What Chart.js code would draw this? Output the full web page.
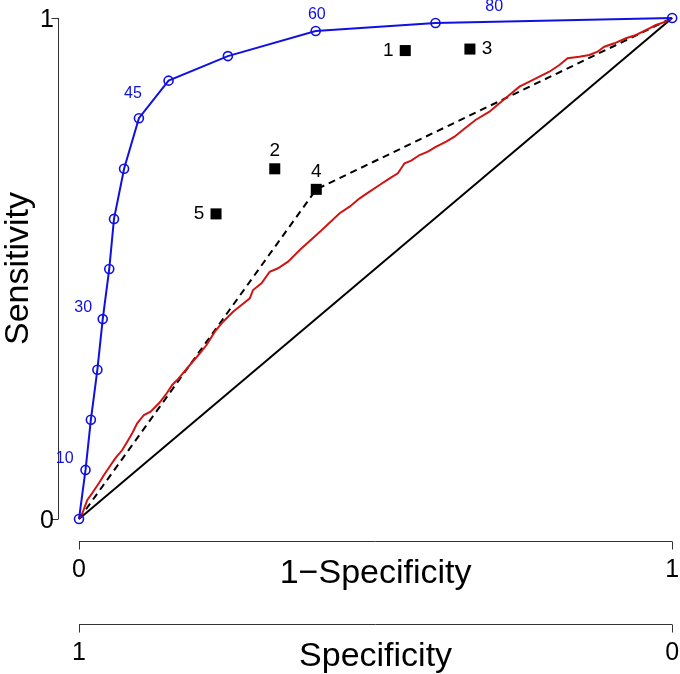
<!DOCTYPE html>
<html>
<head>
<meta charset="UTF-8">
<title>ROC curves</title>
<script src="https://cdn.jsdelivr.net/npm/chart.js@4.4.1/dist/chart.umd.min.js"></script>
<style>
  body { margin: 0; background: #fff; }
</style>
</head>
<body>
<canvas id="chart" width="680" height="674"></canvas>
<script>
// ---- data ----
// blue curve (cutoff points)
var blueX = [0, 0.011, 0.02, 0.031, 0.04, 0.051, 0.059, 0.076, 0.101, 0.151, 0.251, 0.399, 0.601, 1];
var blueY = [0, 0.098, 0.198, 0.298, 0.399, 0.499, 0.599, 0.699, 0.8, 0.875, 0.924, 0.974, 0.99, 1];
// cutoff text labels on the blue curve
var cutoffLabels = ['10', '30', '45', '60', '80'];
var cutoffX = [-0.024, 0.007, 0.091, 0.401, 0.700];
var cutoffY = [0.120, 0.421, 0.850, 1.006, 1.022];

// red empirical curve
var redX = [0, 0.0056, 0.014, 0.0224, 0.0337, 0.0421, 0.0534, 0.0618, 0.0729, 0.0813, 0.0897, 0.0981,
  0.1094, 0.1207, 0.1347, 0.146, 0.1571, 0.1655, 0.1869, 0.2037, 0.215, 0.229, 0.2429, 0.2598, 0.2739,
  0.2879, 0.2934, 0.3076, 0.3215, 0.3355, 0.3524, 0.3721, 0.4057, 0.4394, 0.4562, 0.4731, 0.4899, 0.5067,
  0.5236, 0.5375, 0.5488, 0.5601, 0.5741, 0.588, 0.6022, 0.619, 0.633, 0.647, 0.6684, 0.6919, 0.7088,
  0.7256, 0.7424, 0.7593, 0.7761, 0.7929, 0.8098, 0.8237, 0.8434, 0.8603, 0.8742, 0.8855, 0.9024, 0.922,
  0.9389, 0.9557, 0.9726, 0.9894, 1];
var redY = [0, 0.0114, 0.0379, 0.0519, 0.0719, 0.0878, 0.1078, 0.1218, 0.1377, 0.1543, 0.1711, 0.191,
  0.2076, 0.2142, 0.2309, 0.2475, 0.2675, 0.2774, 0.3074, 0.3307, 0.3473, 0.3739, 0.3938, 0.4138, 0.4271,
  0.4405, 0.4571, 0.4705, 0.4936, 0.5004, 0.5136, 0.5369, 0.5729, 0.6102, 0.6234, 0.6401, 0.6533, 0.6667,
  0.68, 0.69, 0.71, 0.7152, 0.7265, 0.7331, 0.7431, 0.7531, 0.7631, 0.7764, 0.7964, 0.813, 0.8297,
  0.8463, 0.8629, 0.8729, 0.8828, 0.8928, 0.9062, 0.9196, 0.9228, 0.9261, 0.9327, 0.9427, 0.9495, 0.9595,
  0.9661, 0.976, 0.986, 0.9926, 1];

// dashed line through square 4
var dashX = [0, 0.4, 1];
var dashY = [0, 0.658, 1];

// black squares
var sqLabels = ['1', '2', '3', '4', '5'];
var sqX = [0.550, 0.330, 0.659, 0.400, 0.231];
var sqY = [0.935, 0.699, 0.938, 0.658, 0.609];
var sqLabelSide = ['left', 'top', 'right', 'top', 'left'];

// axes
var xTicks = [0, 1];
var xTickLabels = ['0', '1'];
var specTickLabels = ['1', '0'];
var yTicks = [0, 1];
var yTickLabels = ['0', '1'];

function pts(xs, ys) {
    var out = [];
    for (var i = 0; i < xs.length; i++) out.push({x: xs[i], y: ys[i]});
    return out;
}

var FONT = '"Liberation Sans", Arial, Helvetica, sans-serif';

// draws R-style detached axes plus the text annotations
var axesPlugin = {
    id: 'rAxes',
    afterDraw: function(chart) {
        var ctx = chart.ctx;
        var xs = chart.scales.x, ys = chart.scales.y;
        var area = chart.chartArea;
        ctx.save();
        ctx.strokeStyle = '#333';
        ctx.fillStyle = '#000';
        ctx.lineWidth = 1;

        // y axis
        var ax = 58.5;
        ctx.beginPath();
        ctx.moveTo(ax, ys.getPixelForValue(yTicks[0]));
        ctx.lineTo(ax, ys.getPixelForValue(yTicks[yTicks.length - 1]));
        yTicks.forEach(function(t) {
            var p = Math.round(ys.getPixelForValue(t)) + 0.5;
            ctx.moveTo(ax, p);
            ctx.lineTo(ax - 7, p);
        });
        ctx.stroke();
        ctx.font = '25px ' + FONT;
        ctx.textAlign = 'center';
        ctx.textBaseline = 'middle';
        yTicks.forEach(function(t, i) {
            ctx.fillText(yTickLabels[i], 47, ys.getPixelForValue(t) + 2);
        });
        ctx.save();
        ctx.translate(19, (area.top + area.bottom) / 2);
        ctx.rotate(-Math.PI / 2);
        ctx.font = '34px ' + FONT;
        ctx.fillText('Sensitivity', 0, 0);
        ctx.restore();

        // two bottom axes
        function bottomAxis(lineY, labels, title) {
            ctx.beginPath();
            ctx.moveTo(xs.getPixelForValue(xTicks[0]), lineY);
            ctx.lineTo(xs.getPixelForValue(xTicks[xTicks.length - 1]), lineY);
            xTicks.forEach(function(t) {
                var p = Math.round(xs.getPixelForValue(t)) + 0.5;
                ctx.moveTo(p, lineY);
                ctx.lineTo(p, lineY + 8);
            });
            ctx.stroke();
            ctx.font = '25px ' + FONT;
            xTicks.forEach(function(t, i) {
                ctx.fillText(labels[i], xs.getPixelForValue(t), lineY + 29);
            });
            ctx.font = '34px ' + FONT;
            ctx.fillText(title, (area.left + area.right) / 2, lineY + 32);
        }
        bottomAxis(541.5, xTickLabels, '1\u2212Specificity');
        bottomAxis(624.5, specTickLabels, 'Specificity');

        // cutoff labels
        ctx.fillStyle = '#1010e0';
        ctx.font = '16px ' + FONT;
        cutoffLabels.forEach(function(l, i) {
            ctx.fillText(l, xs.getPixelForValue(cutoffX[i]), ys.getPixelForValue(cutoffY[i]));
        });

        // square labels
        ctx.fillStyle = '#000';
        ctx.font = '19px ' + FONT;
        sqLabels.forEach(function(l, i) {
            var px = xs.getPixelForValue(sqX[i]), py = ys.getPixelForValue(sqY[i]);
            if (sqLabelSide[i] === 'left') px -= 17;
            else if (sqLabelSide[i] === 'right') px += 17;
            else py -= 18;
            ctx.fillText(l, px, py);
        });
        ctx.restore();
    }
};

var ctx = document.getElementById('chart').getContext('2d');
var myChart = new Chart(ctx, {
    type: 'scatter',
    data: {
        datasets: [{
            label: 'squares',
            data: pts(sqX, sqY),
            showLine: false,
            pointStyle: 'rect',
            pointRadius: 7.8,
            backgroundColor: '#000',
            borderColor: '#000',
            borderWidth: 0,
            order: 1
        }, {
            label: 'blue',
            data: pts(blueX, blueY),
            showLine: true,
            borderColor: '#1010e0',
            borderWidth: 2,
            pointStyle: 'circle',
            pointRadius: 4.5,
            pointBorderWidth: 1.6,
            pointBackgroundColor: 'rgba(0,0,0,0)',
            pointBorderColor: '#1010e0',
            order: 2
        }, {
            label: 'red',
            data: pts(redX, redY),
            showLine: true,
            borderColor: '#d01414',
            borderWidth: 2,
            pointRadius: 0,
            order: 3
        }, {
            label: 'dashed',
            data: pts(dashX, dashY),
            showLine: true,
            borderColor: '#000',
            borderWidth: 2,
            borderDash: [7, 5],
            pointRadius: 0,
            order: 4
        }, {
            label: 'diagonal',
            data: pts([0, 1], [0, 1]),
            showLine: true,
            borderColor: '#000',
            borderWidth: 2,
            pointRadius: 0,
            order: 5
        }]
    },
    options: {
        responsive: false,
        animation: false,
        clip: false,
        layout: { padding: { left: 79, right: 7, top: 18, bottom: 155 } },
        plugins: { legend: { display: false }, tooltip: { enabled: false } },
        scales: {
            x: { type: 'linear', min: 0, max: 1, display: false },
            y: { type: 'linear', min: 0, max: 1, display: false }
        }
    },
    plugins: [axesPlugin]
});
</script>
</body>
</html>
